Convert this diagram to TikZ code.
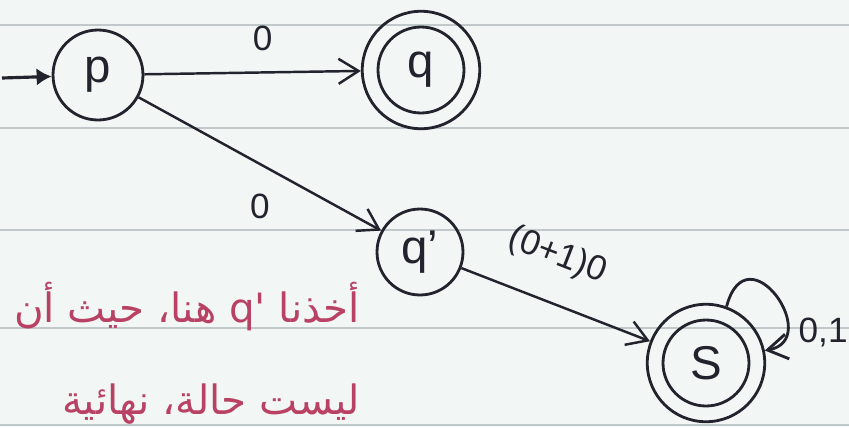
\documentclass[tikz,border=0pt]{standalone}
\usepackage{fontspec}
\setmainfont{Liberation Sans}
\newfontfamily\arabicfont[Script=Arabic]{DejaVu Sans}
\TeXXeTstate=1
\usetikzlibrary{arrows.meta}
\definecolor{ink}{RGB}{35,35,45}
\definecolor{redink}{RGB}{185,65,100}
\definecolor{paper}{RGB}{242,247,246}
\definecolor{rulecol}{RGB}{192,200,202}

\begin{document}
\begin{tikzpicture}[x=0.02cm,y=-0.02cm,
    state/.style={circle,draw=ink,line width=1.6pt,minimum size=1.8cm,inner sep=0pt,
        font=\fontsize{27}{27}\selectfont,text=ink},
    accept/.style={state,minimum size=2.35cm,
        path picture={\draw[ink,line width=1.6pt] (path picture bounding box.center) circle (0.86cm);}},
    lbl/.style={font=\fontsize{20}{20}\selectfont,text=ink},
    note/.style={text=redink,anchor=base east,font=\arabicfont\fontsize{23}{28}\selectfont},
    >={Straight Barb[length=4mm,width=5mm]}
]
\useasboundingbox (0,0) rectangle (849,427);
\fill[paper] (0,0) rectangle (849,427);
\foreach \y in {25,128,230,328,425}
    \draw[rulecol,line width=0.8pt] (0,\y) -- (849,\y);

\node[state] (p) at (98,75) {p};
\node[accept] (q) at (421,70) {q};
\node[state,minimum size=1.72cm] (q1) at (420,252) {q'};
\node[accept] (s) at (706,363) {S};
\coordinate (start) at (2,78);

\draw[ink,line width=1.8pt,-{Latex[length=3mm,width=3.5mm]}] (start) -- (p);
\draw[ink,line width=1.4pt,->] (p) -- node[lbl,above=0.3cm,xshift=0.2cm] {0} (q);
\draw[ink,line width=1.4pt,->] (p) -- node[lbl,pos=0.5,below=0.45cm] {0} (q1);
\draw[ink,line width=1.4pt,->] (q1) -- node[lbl,sloped,above=0.45cm,pos=0.42] {(0+1)0} (s);
\draw[ink,line width=1.6pt,->] (s.70) .. controls +(75:1.6cm) and +(10:1.2cm) ..
    node[lbl,pos=0.78,right=3pt] {0,1} (s.12);

\node[note] (note1) at (366,322) {\beginR أخذنا \beginL q'\endL{} هنا، حيث أن\endR};
\node[note] (note2) at (366,414) {\beginR ليست حالة، نهائية\endR};
\end{tikzpicture}
\end{document}
